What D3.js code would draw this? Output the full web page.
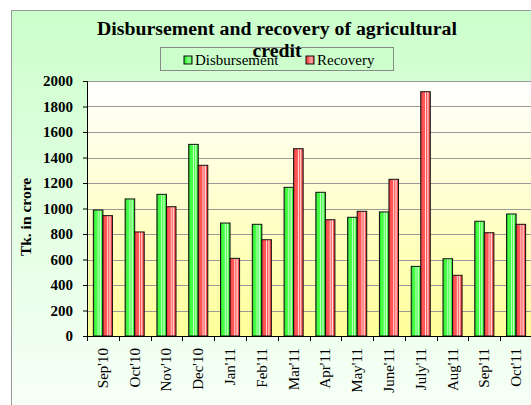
<!DOCTYPE html>
<meta charset="utf-8">
<style>
  body { margin: 0; background: #fff; }
  svg text { font-family: 'Liberation Serif', 'DejaVu Serif', serif; }
</style>
<body>
<div id="chart"></div>
<script src="https://d3js.org/d3.v7.min.js"></script>
<script>
// data
var months = ["Sep'10", "Oct'10", "Nov'10", "Dec'10", "Jan'11", "Feb'11", "Mar'11",
              "Apr'11", "May'11", "June'11", "July'11", "Aug'11", "Sep'11", "Oct'11"];
var disbursement = [988, 1075, 1111, 1503, 886, 876, 1166, 1127, 931, 973, 546, 606, 900, 957];
var recovery = [944, 816, 1014, 1339, 609, 755, 1469, 912, 978, 1229, 1916, 476, 810, 876];
var yTicks = [0, 200, 400, 600, 800, 1000, 1200, 1400, 1600, 1800, 2000];
var seriesNames = ["Disbursement", "Recovery"];

var W = 531, H = 405;
var margin = {top: 81, right: -1, bottom: 69, left: 87};
var width = W - margin.left - margin.right,
    height = H - margin.top - margin.bottom;
var serif = "'Liberation Serif', 'DejaVu Serif', serif";

var svg = d3.select("#chart").append("svg")
    .attr("width", W).attr("height", H);

var defs = svg.append("defs");
var bg = defs.append("linearGradient").attr("id", "bg").attr("x1", 0).attr("y1", 0).attr("x2", 0).attr("y2", 1);
bg.append("stop").attr("offset", "0%").attr("stop-color", "#ccffcc");
bg.append("stop").attr("offset", "100%").attr("stop-color", "#f8fff8");
var pa = defs.append("linearGradient").attr("id", "pa").attr("x1", 0).attr("y1", 0).attr("x2", 0).attr("y2", 1);
pa.append("stop").attr("offset", "0%").attr("stop-color", "#ffffff");
pa.append("stop").attr("offset", "100%").attr("stop-color", "#ffff99");

function stripes(id, dark, mid, light) {
  var g = defs.append("linearGradient").attr("id", id).attr("x1", 0).attr("y1", 0).attr("x2", 1).attr("y2", 0);
  [[0, dark], [0.2, mid], [0.4, mid], [0.5, light], [0.6, mid], [0.75, light], [0.85, mid], [1, dark]]
    .forEach(function(s) { g.append("stop").attr("offset", s[0]).attr("stop-color", s[1]); });
}
stripes("gGreen", "#22bb22", "#44ff44", "#ccffcc");
stripes("gRed", "#dd3333", "#ff5555", "#ffdddd");
var fills = ["url(#gGreen)", "url(#gRed)"];

// outer chart area
svg.append("rect").attr("x", 11.5).attr("y", 10.5).attr("width", W).attr("height", H)
    .attr("fill", "url(#bg)").attr("stroke", "#999");

var g = svg.append("g").attr("transform", "translate(" + margin.left + "," + margin.top + ")");

var x = d3.scaleBand().domain(months).range([0, width]).paddingInner(0.4).paddingOuter(0.2);
var xb = d3.scaleBand().domain(months).range([0, width]);
var x1 = d3.scaleBand().domain(seriesNames).range([0, x.bandwidth()]);
var y = d3.scaleLinear().domain([0, 2000]).range([height, 0]);

g.append("rect").attr("width", width).attr("height", height).attr("fill", "url(#pa)");
g.append("line").attr("x1", 0).attr("x2", width).attr("y1", 0.5).attr("y2", 0.5).attr("stroke", "#888");

// grid
g.selectAll(".grid").data(yTicks.slice(1)).enter().append("line")
    .attr("x1", 0).attr("x2", width)
    .attr("y1", function(d) { return Math.round(y(d)) + 0.5; })
    .attr("y2", function(d) { return Math.round(y(d)) + 0.5; })
    .attr("stroke", "#999").attr("stroke-width", 1);

// bars
var data = months.map(function(m, i) { return {m: m, v: [disbursement[i], recovery[i]]}; });
var grp = g.selectAll(".grp").data(data).enter().append("g")
    .attr("transform", function(d) { return "translate(" + x(d.m) + ",0)"; });
grp.selectAll("rect").data(function(d) { return d.v.map(function(v, k) { return {k: k, v: v}; }); })
  .enter().append("rect")
    .attr("x", function(d) { return x1(seriesNames[d.k]); })
    .attr("y", function(d) { return y(d.v); })
    .attr("width", x1.bandwidth())
    .attr("height", function(d) { return height - y(d.v); })
    .attr("fill", function(d) { return fills[d.k]; })
    .attr("stroke", "#111").attr("stroke-width", 1);

// y axis
var ya = g.append("g").call(d3.axisLeft(y).tickValues(yTicks).tickFormat(d3.format("d")).tickSize(4).tickPadding(10));
ya.select(".domain").attr("stroke", "#000");
ya.selectAll("text").style("font-family", serif).style("font-size", "15px")
    .style("font-weight", "bold").attr("fill", "#000");

// x axis
var xa = g.append("g").attr("transform", "translate(0," + height + ")")
    .call(d3.axisBottom(xb).tickSize(0).tickFormat(""));
xa.select(".domain").attr("stroke", "#000");
g.selectAll(".xtick").data(months.concat([null])).enter().append("line")
    .attr("x1", function(d, i) { return Math.round(i * xb.bandwidth()) + 0.5; })
    .attr("x2", function(d, i) { return Math.round(i * xb.bandwidth()) + 0.5; })
    .attr("y1", height).attr("y2", height + 5).attr("stroke", "#000");
g.selectAll(".xl").data(months).enter().append("text")
    .attr("transform", function(d) {
      return "translate(" + (xb(d) + xb.bandwidth() / 2 + 5) + "," + (height + 12) + ") rotate(-90)";
    })
    .attr("text-anchor", "end").style("font-family", serif).style("font-size", "15px")
    .text(function(d) { return d; });

// y title
svg.append("text").attr("transform", "translate(31,217) rotate(-90)")
    .attr("text-anchor", "middle").style("font-family", serif).style("font-size", "15.5px")
    .style("font-weight", "bold").text("Tk. in crore");

// legend
var lg = svg.append("g");
lg.append("rect").attr("x", 160.5).attr("y", 47.5).attr("width", 233).attr("height", 23)
    .attr("fill", "#ccffcc").attr("stroke", "#888");
var lx = [184, 306];
seriesNames.forEach(function(s, i) {
  lg.append("rect").attr("x", lx[i]).attr("y", 56).attr("width", 8).attr("height", 8)
    .attr("fill", fills[i]).attr("stroke", "#111");
  lg.append("text").attr("x", lx[i] + 11).attr("y", 65).style("font-family", serif)
    .style("font-size", "15px").text(s);
});

// title
var title = svg.append("text").attr("text-anchor", "middle").style("font-family", serif)
    .style("font-size", "19.8px").style("font-weight", "bold");
title.append("tspan").attr("x", 277).attr("y", 35).text("Disbursement and recovery of agricultural");
title.append("tspan").attr("x", 277).attr("y", 57).text("credit");
</script>
</body>
